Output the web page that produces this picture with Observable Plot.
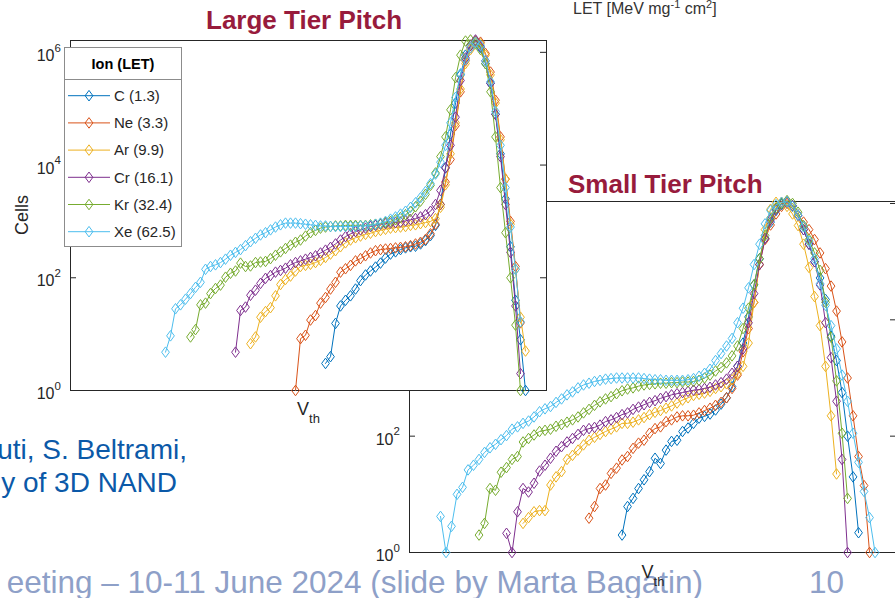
<!DOCTYPE html>
<html><head><meta charset="utf-8">
<script src="https://cdn.jsdelivr.net/npm/d3@7"></script>
<script src="https://cdn.jsdelivr.net/npm/@observablehq/plot@0.6"></script>
<style>
html,body{margin:0;padding:0;background:#fff;overflow:hidden}
#stage{position:relative;width:895px;height:598px;overflow:hidden;background:#fff;font-family:"Liberation Sans",Arial,Helvetica,sans-serif}
#stage > svg{position:absolute}
</style></head><body><div id="stage"></div>
<script>
// ---- categories ----
const ions = ["C", "Ne", "Ar", "Cr", "Kr", "Xe"];
const lets = ["1.3", "3.3", "9.9", "16.1", "32.4", "62.5"];
const colors = ["#0072BD", "#D95319", "#EDB120", "#7E2F8E", "#77AC30", "#4DBEEE"];
const yTicks = [1, 1e2, 1e4, 1e6];

// ---- Large Tier Pitch: log10(Cells) per Vth bin, first bin index per ion ----
const largeFirstBin = [32, 26, 17, 14, 5, 0];
const largeLogC = [0.48,0.6,1.19,1.5,1.6,1.68,1.8,1.95,2.05,2.12,2.19,2.26,2.35,2.42,2.46,2.5,2.53,2.55,2.56,2.6,2.66,2.75,2.93,3.3,3.95,4.55,5.1,5.6,5.95,6.12,6.2,6.08,5.8,5.45,4.9,4.2,3.4,2.55,1.6,0.9,0];
const largeLogNe = [0,0.92,0.98,1.25,1.33,1.55,1.65,1.8,1.92,2.1,2.16,2.22,2.3,2.34,2.39,2.44,2.48,2.5,2.51,2.52,2.53,2.54,2.55,2.57,2.6,2.63,2.68,2.78,2.95,3.3,3.7,4.1,4.7,5.3,5.85,6.08,6.2,6.18,5.98,5.65,5.15,4.5,3.75,3.0,2.2,1.2];
const largeLogAr = [0.83,0.95,1.3,1.4,1.47,1.68,1.88,1.97,2.03,2.12,2.2,2.22,2.24,2.27,2.31,2.36,2.42,2.48,2.55,2.62,2.67,2.71,2.74,2.77,2.79,2.82,2.84,2.86,2.88,2.89,2.9,2.91,2.93,2.94,2.96,2.98,3.0,3.05,3.25,3.65,4.2,4.75,5.35,5.8,6.05,6.18,6.15,5.95,5.6,5.1,4.45,3.75,2.95,2.15,1.3,0.7];
const largeLogCr = [0.68,1.42,1.48,1.69,1.78,1.9,1.99,2.04,2.1,2.13,2.17,2.23,2.27,2.3,2.33,2.36,2.39,2.44,2.49,2.54,2.6,2.67,2.73,2.78,2.82,2.85,2.88,2.91,2.93,2.95,2.96,2.97,2.98,2.99,3.01,3.03,3.05,3.08,3.12,3.18,3.3,3.55,3.95,4.35,4.85,5.5,5.9,6.12,6.22,6.1,5.85,5.45,4.9,4.15,3.3,2.45,1.5,0.3];
const largeLogKr = [0.95,1.08,1.52,1.55,1.72,1.81,1.87,2.01,2.08,2.12,2.26,2.2,2.21,2.27,2.28,2.29,2.34,2.4,2.46,2.52,2.58,2.63,2.67,2.74,2.8,2.84,2.88,2.9,2.91,2.92,2.92,2.93,2.93,2.93,2.93,2.93,2.94,2.95,2.96,2.98,3.0,3.03,3.07,3.12,3.18,3.26,3.36,3.48,3.64,3.86,4.15,4.5,4.98,5.55,5.95,6.2,6.22,6.15,6.05,5.8,5.3,4.5,3.6,2.8,2.0,1.16,0];
const largeLogXe = [0.68,0.97,1.45,1.52,1.62,1.72,1.83,1.92,2.15,2.2,2.23,2.27,2.33,2.4,2.45,2.5,2.57,2.64,2.7,2.76,2.8,2.85,2.9,2.94,2.97,2.97,2.97,2.96,2.95,2.94,2.93,2.92,2.92,2.91,2.91,2.91,2.91,2.91,2.91,2.92,2.92,2.93,2.95,2.97,3.0,3.04,3.08,3.13,3.18,3.25,3.33,3.42,3.53,3.67,3.84,4.05,4.35,4.75,5.2,5.62,5.87,6.08,6.18,6.12,5.85,5.48,4.95,4.35,3.6,2.9,2.15,1.22];

// ---- Small Tier Pitch: log10(Cells) per Vth bin, first bin index per ion ----
const smallFirstBin = [33, 27, 15, 12, 7, 0];
const smallLogC = [0.3,0.79,0.93,1.1,1.25,1.39,1.62,1.53,1.76,1.91,1.93,2.08,2.14,2.22,2.31,2.34,2.38,2.45,2.55,2.66,2.85,3.2,3.6,4.05,4.6,5.05,5.4,5.68,5.88,5.98,6.02,5.96,5.8,5.55,5.3,5.0,4.72,4.35,3.72,3.3,2.75,2.0,1.3,0.34];
const smallLogNe = [0.59,0.79,1.1,1.16,1.36,1.45,1.59,1.65,1.79,1.88,1.93,2.05,2.13,2.16,2.25,2.28,2.33,2.35,2.35,2.36,2.4,2.44,2.48,2.53,2.58,2.66,2.82,3.05,3.45,3.85,4.3,4.95,5.38,5.63,5.82,5.95,6.0,5.95,5.8,5.68,5.55,5.38,5.15,4.88,4.58,4.15,3.62,3.0,2.35,1.65,1.15,0];
const smallLogAr = [0.5,0.6,0.7,0.72,0.72,1.16,1.3,1.39,1.6,1.67,1.76,1.85,1.93,1.98,2.03,2.08,2.12,2.16,2.22,2.22,2.24,2.28,2.32,2.37,2.41,2.44,2.48,2.52,2.57,2.62,2.66,2.7,2.72,2.74,2.77,2.82,2.85,2.9,2.97,3.08,3.2,3.6,4.3,4.95,5.55,5.9,6.02,6.02,5.95,5.82,5.62,5.3,4.9,4.4,3.9,3.2,2.35,1.35];
const smallLogCr = [0.33,0,0.7,1.1,1.04,1.19,1.4,1.5,1.62,1.74,1.82,1.9,1.96,2.03,2.1,2.13,2.15,2.19,2.25,2.28,2.32,2.37,2.4,2.46,2.5,2.54,2.58,2.61,2.65,2.68,2.71,2.73,2.75,2.77,2.79,2.8,2.82,2.84,2.88,2.92,2.98,3.08,3.2,3.5,3.95,4.45,4.95,5.4,5.72,5.9,6.0,6.03,5.96,5.8,5.55,5.3,5.0,4.6,3.95,3.35,2.6,1.6,0];
const smallLogKr = [0.3,0.5,1.1,1.07,1.38,1.46,1.6,1.65,1.9,1.96,2.02,2.08,2.1,2.12,2.17,2.2,2.24,2.28,2.33,2.4,2.46,2.53,2.59,2.64,2.68,2.73,2.78,2.81,2.83,2.86,2.88,2.89,2.9,2.91,2.91,2.92,2.92,2.93,2.93,2.94,2.96,3.0,3.05,3.12,3.18,3.26,3.38,3.55,3.85,4.2,4.6,5.05,5.45,5.75,5.92,6.0,6.05,6.0,5.85,5.62,5.38,5.15,4.85,4.3,3.7,2.95,2.05,0.93];
const smallLogXe = [0.62,0,0.45,1.0,1.12,1.42,1.5,1.6,1.72,1.8,1.86,1.94,2.01,2.12,2.16,2.22,2.26,2.33,2.42,2.47,2.51,2.58,2.64,2.71,2.76,2.83,2.88,2.91,2.94,2.96,2.98,2.99,3.0,3.0,3.0,3.0,3.0,2.99,2.98,2.97,2.97,2.96,2.96,2.96,2.96,2.97,2.99,3.03,3.08,3.15,3.3,3.42,3.55,3.68,3.95,4.2,4.55,4.95,5.3,5.65,5.88,5.98,6.02,6.03,5.95,5.8,5.6,5.35,5.05,4.62,4.25,3.9,3.5,3.05,2.6,2.05,1.55,1.05,0.6,0];

const largeLogs = [largeLogC, largeLogNe, largeLogAr, largeLogCr, largeLogKr, largeLogXe];
const smallLogs = [smallLogC, smallLogNe, smallLogAr, smallLogCr, smallLogKr, smallLogXe];

// MATLAB-like open diamond marker
const diamond = {
  draw(ctx, size) {
    const r = Math.sqrt(size / Math.PI);
    const h = r * 1.2, w = r * 0.88;
    ctx.moveTo(0, -h); ctx.lineTo(w, 0); ctx.lineTo(0, h); ctx.lineTo(-w, 0); ctx.closePath();
  }
};

const FONT = '"Liberation Sans", Arial, Helvetica, sans-serif';
const AX = "#262626";

function panel({width, height, ml, mr, mt, mb, xDomain, yTopExp, starts, logs}) {
  const fw = width - ml - mr;
  const marks = [
    Plot.frame({fill: "white", stroke: AX, strokeWidth: 1}),
    Plot.tickY(yTicks, {y: d => d, insetRight: fw - 6, stroke: AX}),
    Plot.tickY(yTicks, {y: d => d, insetLeft: fw - 6, stroke: AX}),
    Plot.axisY({ticks: yTicks, tickSize: 0, tickPadding: 16, tickFormat: () => "10", dy: 3.5, fontSize: 16, label: null}),
    Plot.axisY({ticks: yTicks, tickSize: 0, tickPadding: 16, textAnchor: "start", tickFormat: d => String(Math.round(Math.log10(d))), dy: -4.5, fontSize: 11.5, label: null})
  ];
  ions.forEach((ion, i) => {
    const data = logs[i].map((v, j) => ({ion, bin: starts[i] + j, cells: Math.pow(10, v)}));
    marks.push(Plot.line(data, {x: "bin", y: "cells", stroke: colors[i], strokeWidth: 1}));
    marks.push(Plot.dot(data, {x: "bin", y: "cells", stroke: colors[i], fill: "none", symbol: diamond, r: 4.4, strokeWidth: 1}));
  });
  return Plot.plot({
    width, height,
    marginLeft: ml, marginRight: mr, marginTop: mt, marginBottom: mb,
    x: {domain: xDomain, axis: null},
    y: {type: "log", domain: [1, Math.pow(10, yTopExp)]},
    style: {background: "none", overflow: "visible", fontFamily: FONT, color: AX},
    marks
  });
}

const stage = document.getElementById("stage");

// Small Tier Pitch panel (drawn first, partly covered)
const small = panel({width: 560, height: 448, ml: 69, mr: 4, mt: 51, mb: 46,
  xDomain: [-5.64, 82.9], yTopExp: 6.034, starts: smallFirstBin, logs: smallLogs});
small.style.left = "340px"; small.style.top = "150px";
stage.appendChild(small);

// Large Tier Pitch panel (on top)
const large = panel({width: 560, height: 430, ml: 70, mr: 14, mt: 40, mb: 40,
  xDomain: [-19, 76.2], yTopExp: 6.21, starts: largeFirstBin, logs: largeLogs});
large.style.left = "0px"; large.style.top = "0px";
stage.appendChild(large);

// Overlay: slide texts, labels, legend
const ov = d3.create("svg").attr("width", 895).attr("height", 598)
  .style("left", "0px").style("top", "0px").style("font-family", FONT);

// footer
ov.append("text").attr("x", 703).attr("y", 593).attr("text-anchor", "end")
  .attr("font-size", 31.5).attr("fill", "#8EA0C8").text("eeting – 10-11 June 2024 (slide by Marta Bagatin)");
ov.append("text").attr("x", 809).attr("y", 593)
  .attr("font-size", 31.5).attr("fill", "#8EA0C8").text("10");

// blue author text
ov.append("text").attr("x", 187).attr("y", 459).attr("text-anchor", "end")
  .attr("font-size", 28).attr("fill", "#0B59A8").text("uti, S. Beltrami,");
ov.append("text").attr("x", 177).attr("y", 492).attr("text-anchor", "end")
  .attr("font-size", 28).attr("fill", "#0B59A8").text("y of 3D NAND");

// titles
ov.append("text").attr("x", 206).attr("y", 29).attr("font-size", 26).attr("font-weight", "bold")
  .attr("fill", "#981B3C").text("Large Tier Pitch");
ov.append("text").attr("x", 568).attr("y", 193).attr("font-size", 26).attr("font-weight", "bold")
  .attr("fill", "#981B3C").text("Small Tier Pitch");

// LET unit label
const let_ = ov.append("text").attr("x", 573).attr("y", 13.5).attr("font-size", 16).attr("fill", "#333");
let_.append("tspan").text("LET [MeV mg");
let_.append("tspan").attr("font-size", 11).attr("dy", -6).text("-1");
let_.append("tspan").attr("dy", 6).text(" cm");
let_.append("tspan").attr("font-size", 11).attr("dy", -6).text("2");
let_.append("tspan").attr("dy", 6).text("]");

// y label
ov.append("text").attr("transform", "translate(28,215) rotate(-90)").attr("text-anchor", "middle")
  .attr("font-size", 18).attr("fill", AX).text("Cells");

// Vth labels
function vth(x, y) {
  const t = ov.append("text").attr("x", x).attr("y", y).attr("font-size", 18).attr("fill", AX);
  t.append("tspan").text("V");
  t.append("tspan").attr("font-size", 13).attr("dy", 8).text("th");
}
vth(297, 415);
vth(641.5, 578);

// legend
const lg = ov.append("g");
lg.append("rect").attr("x", 64.5).attr("y", 47.5).attr("width", 117).attr("height", 199)
  .attr("fill", "white").attr("stroke", "#8c8c8c");
lg.append("line").attr("x1", 64.5).attr("x2", 181.5).attr("y1", 79.5).attr("y2", 79.5).attr("stroke", "#8c8c8c");
lg.append("text").attr("x", 123).attr("y", 68.5).attr("text-anchor", "middle").attr("font-size", 14.5)
  .attr("font-weight", "bold").attr("fill", "#000").text("Ion (LET)");
const dPath = d3.path(); diamond.draw(dPath, Math.PI * 4.4 * 4.4);
ions.forEach((ion, i) => {
  const yc = 95.7 + 27.2 * i;
  lg.append("line").attr("x1", 68).attr("x2", 110).attr("y1", yc).attr("y2", yc).attr("stroke", colors[i]);
  lg.append("path").attr("d", dPath.toString()).attr("transform", `translate(89,${yc})`)
    .attr("fill", "none").attr("stroke", colors[i]);
  lg.append("text").attr("x", 114).attr("y", yc + 5.3).attr("font-size", 15).attr("fill", AX)
    .text(`${ion} (${lets[i]})`);
});

stage.appendChild(ov.node());
</script></body></html>
